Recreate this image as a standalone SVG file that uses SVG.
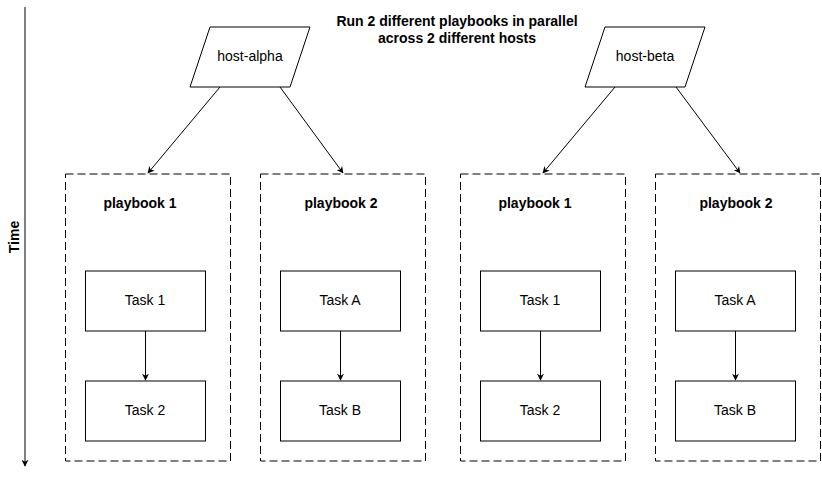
<svg xmlns="http://www.w3.org/2000/svg" width="822" height="477" viewBox="0 0 822 477">
<defs>
<style>
text{font-family:"Liberation Sans",Arial,sans-serif;font-size:14px;fill:#000;text-anchor:middle}
.b{font-weight:bold}
.host{fill:#fff;stroke:#000;stroke-width:1}
.box{fill:#fff;stroke:#000;stroke-width:1}
.pb{fill:none;stroke:#000;stroke-width:1;stroke-dasharray:8 4}
.conn{fill:none;stroke:#000;stroke-width:1}
</style>
<marker id="arr" viewBox="0 0 10 10" refX="9" refY="5" markerWidth="7" markerHeight="7" markerUnits="userSpaceOnUse" orient="auto">
<path d="M0,0 L10,5 L0,10 L3,5 Z" fill="#000"/>
</marker>
</defs>
<rect width="822" height="477" fill="#fff"/>

<g id="title">
<text class="b" x="457" y="26">Run 2 different playbooks in parallel</text>
<text class="b" x="457" y="43">across 2 different hosts</text>
</g>

<g id="time">
<line x1="25" y1="7" x2="25" y2="466" class="conn" marker-end="url(#arr)"/>
<text class="b" x="0" y="0" transform="translate(19,237) rotate(-90)">Time</text>
</g>

<g id="host-alpha">
<polygon class="host" points="210,27 310,27 290,87 190,87"/>
<text x="250" y="61">host-alpha</text>
</g>
<g id="host-beta">
<polygon class="host" points="605,27 705,27 685,87 585,87"/>
<text x="645" y="61">host-beta</text>
</g>

<g id="alpha-playbook1">
<rect class="pb" x="65.5" y="174" width="165" height="287"/>
<text class="b" x="140" y="208">playbook 1</text>
</g>
<g id="alpha-playbook2">
<rect class="pb" x="260.5" y="174" width="165" height="287"/>
<text class="b" x="341" y="208">playbook 2</text>
</g>
<g id="beta-playbook1">
<rect class="pb" x="460.5" y="174" width="165" height="287"/>
<text class="b" x="535" y="208">playbook 1</text>
</g>
<g id="beta-playbook2">
<rect class="pb" x="655.5" y="174" width="165" height="287"/>
<text class="b" x="736" y="208">playbook 2</text>
</g>

<g id="alpha-task1"><rect class="box" x="85.5" y="271" width="120" height="60"/><text x="145" y="305">Task 1</text></g>
<g id="alpha-task2"><rect class="box" x="85.5" y="381" width="120" height="60"/><text x="145" y="415">Task 2</text></g>
<g id="alpha-taskA"><rect class="box" x="280.5" y="271" width="120" height="60"/><text x="340" y="305">Task A</text></g>
<g id="alpha-taskB"><rect class="box" x="280.5" y="381" width="120" height="60"/><text x="340" y="415">Task B</text></g>
<g id="beta-task1"><rect class="box" x="480.5" y="271" width="120" height="60"/><text x="540" y="305">Task 1</text></g>
<g id="beta-task2"><rect class="box" x="480.5" y="381" width="120" height="60"/><text x="540" y="415">Task 2</text></g>
<g id="beta-taskA"><rect class="box" x="675.5" y="271" width="120" height="60"/><text x="735" y="305">Task A</text></g>
<g id="beta-taskB"><rect class="box" x="675.5" y="381" width="120" height="60"/><text x="735" y="415">Task B</text></g>

<g id="connectors">
<line class="conn" x1="220" y1="87" x2="148" y2="173" marker-end="url(#arr)"/>
<line class="conn" x1="280" y1="87" x2="343" y2="173" marker-end="url(#arr)"/>
<line class="conn" x1="615" y1="87" x2="543" y2="173" marker-end="url(#arr)"/>
<line class="conn" x1="676" y1="87" x2="740" y2="173" marker-end="url(#arr)"/>
<line class="conn" x1="145.5" y1="331" x2="145.5" y2="380" marker-end="url(#arr)"/>
<line class="conn" x1="340.5" y1="331" x2="340.5" y2="380" marker-end="url(#arr)"/>
<line class="conn" x1="540.5" y1="331" x2="540.5" y2="380" marker-end="url(#arr)"/>
<line class="conn" x1="735.5" y1="331" x2="735.5" y2="380" marker-end="url(#arr)"/>
</g>
</svg>
